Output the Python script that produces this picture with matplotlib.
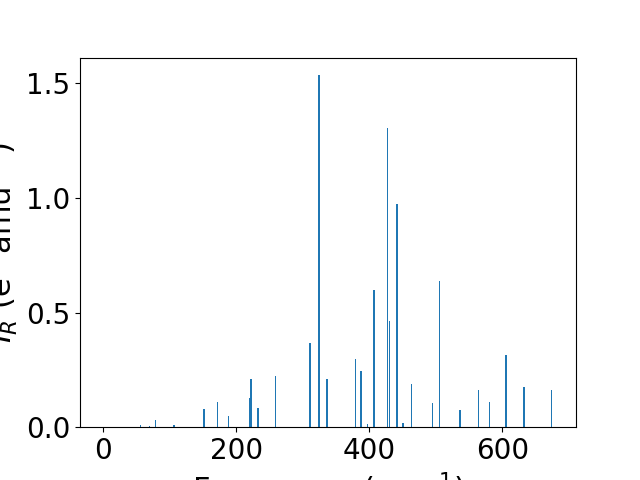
import matplotlib
matplotlib.use("Agg")
import matplotlib.pyplot as plt

freqs = [56.1, 69.7, 78.7, 106.0, 151.4, 171.9, 188.5, 220.5, 222.6, 233.0,
         259.1, 311.3, 324.3, 336.8, 379.5, 387.5, 397.5, 407.0, 427.6, 430.6,
         441.6, 450.6, 463.6, 495.2, 505.8, 536.8, 564.4, 581.0, 605.5, 633.1,
         674.2]
intensities = [0.010, 0.005, 0.032, 0.010, 0.080, 0.110, 0.049, 0.128, 0.210, 0.084,
               0.224, 0.368, 1.536, 0.210, 0.298, 0.246, 0.014, 0.599, 1.305, 0.464,
               0.974, 0.019, 0.189, 0.106, 0.638, 0.075, 0.163, 0.110, 0.315, 0.176,
               0.163]

fig, ax = plt.subplots(figsize=(6.4, 4.8), dpi=100)
ax.bar(freqs, intensities, width=2.5, color="#1f77b4")
ax.set_xlim(-35, 711)
ax.set_ylim(0, 1.613)
ax.set_xticks([0, 200, 400, 600])
ax.set_yticks([0.0, 0.5, 1.0, 1.5])
ax.tick_params(labelsize=20)
ax.set_xlabel("Frequency (cm$^{-1}$)", fontsize=22)
ax.set_ylabel("$I_R$ (e$^2$ amu$^{-1}$)", fontsize=22)
fig.savefig("out.png", dpi=100)
